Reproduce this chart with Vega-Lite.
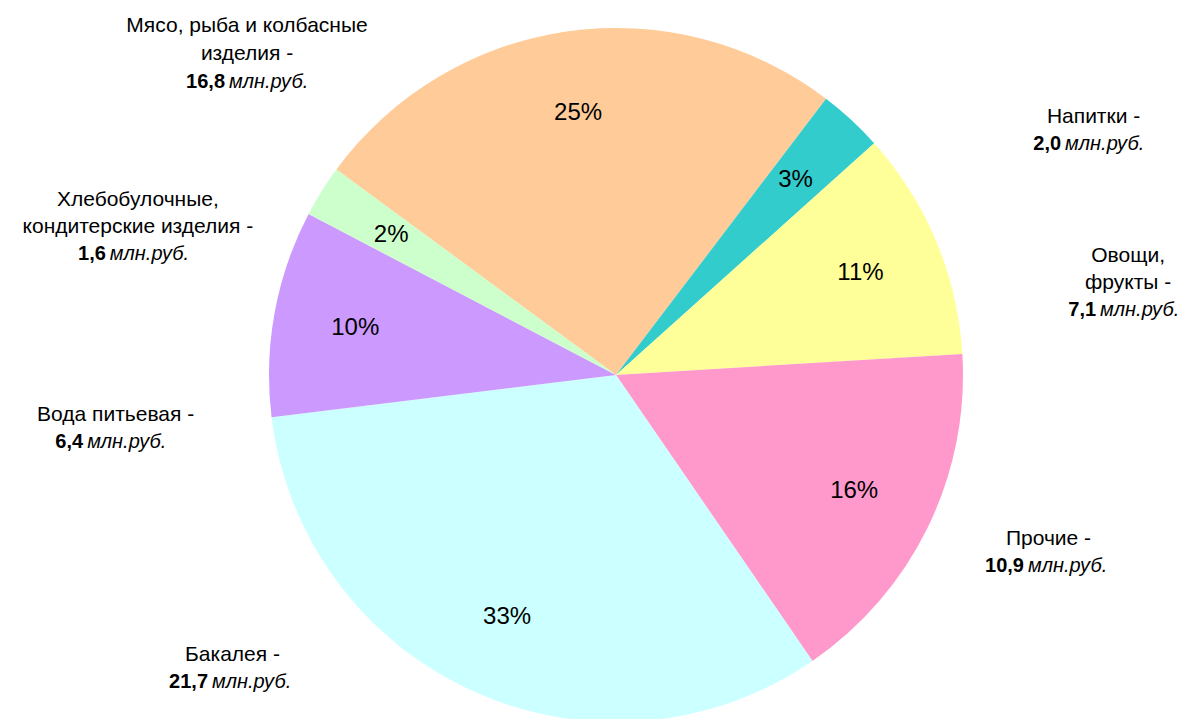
{
  "$schema": "https://vega.github.io/schema/vega-lite/v6.json",
  "width": 1164,
  "height": 686,
  "autosize": {"type": "none"},
  "padding": {"left": 34, "top": 32, "right": 0, "bottom": 1},
  "background": "white",
  "config": {
    "view": {"stroke": null},
    "text": {"font": "Liberation Sans", "color": "black"},
    "locale": {"number": {"decimal": ",", "thousands": "\u00a0", "grouping": [3], "currency": ["", " руб."]}}
  },
  "data": {
    "values": [
      {"idx": 1, "name": "Мясо, рыба и колбасные\nизделия -", "value": 16.8, "share": 0.25, "la": 306.3, "lr": 1.398},
      {"idx": 2, "name": "Напитки -", "value": 2.0, "share": 0.03, "la": 63.2, "lr": 1.437},
      {"idx": 3, "name": "Овощи,\nфрукты -", "value": 7.1, "share": 0.11, "la": 83.0, "lr": 1.394},
      {"idx": 4, "name": "Прочие -", "value": 10.9, "share": 0.16, "la": 115.8, "lr": 1.306},
      {"idx": 5, "name": "Бакалея -", "value": 21.7, "share": 0.33, "la": 232.5, "lr": 1.482},
      {"idx": 6, "name": "Вода питьевая -", "value": 6.4, "share": 0.10, "la": 262.2, "lr": 1.550},
      {"idx": 7, "name": "Хлебобулочные,\nкондитерские изделия -", "value": 1.6, "share": 0.02, "la": 282.7, "lr": 1.507}
    ]
  },
  "resolve": {"scale": {"theta": "independent", "radius": "independent"}},
  "layer": [
    {
      "mark": {"type": "arc", "outerRadius": 347},
      "encoding": {
        "theta": {"field": "value", "type": "quantitative", "stack": true, "scale": {"range": [-0.9372, 5.3460]}},
        "order": {"field": "idx", "type": "quantitative"},
        "color": {
          "field": "idx",
          "type": "nominal",
          "legend": null,
          "scale": {"domain": [1, 2, 3, 4, 5, 6, 7], "range": ["#FFCC99", "#33CCCC", "#FFFF99", "#FF99CC", "#CCFFFF", "#CC99FF", "#CCFFCC"]}
        }
      }
    },
    {
      "mark": {"type": "text", "radius": 265, "fontSize": 24, "align": "center", "baseline": "middle"},
      "encoding": {
        "theta": {"field": "value", "type": "quantitative", "stack": true, "scale": {"range": [-0.9372, 5.3460]}},
        "order": {"field": "idx", "type": "quantitative"},
        "text": {"field": "share", "type": "quantitative", "format": ".0%"}
      }
    },
    {
      "mark": {"type": "text", "align": "right", "baseline": "alphabetic", "fontWeight": "bold", "fontSize": 20},
      "encoding": {
        "theta": {"field": "la", "type": "quantitative", "stack": false, "scale": {"domain": [0, 360], "range": [0, 6.283185]}},
        "radius": {"field": "lr", "type": "quantitative", "scale": {"type": "linear", "domain": [0, 1], "range": [0, 347]}},
        "text": {"field": "value", "type": "quantitative", "format": ".1f"}
      }
    },
    {
      "mark": {"type": "text", "align": "left", "baseline": "alphabetic", "fontStyle": "italic", "fontSize": 20, "dx": 4},
      "encoding": {
        "theta": {"field": "la", "type": "quantitative", "stack": false, "scale": {"domain": [0, 360], "range": [0, 6.283185]}},
        "radius": {"field": "lr", "type": "quantitative", "scale": {"type": "linear", "domain": [0, 1], "range": [0, 347]}},
        "text": {"value": "млн.руб."}
      }
    },
    {
      "transform": [{"filter": "datum.value >= 10 && indexof(datum.name, '\\n') < 0"}],
      "mark": {"type": "text", "align": "center", "baseline": "alphabetic", "fontSize": 21, "lineBreak": "\n", "lineHeight": 27, "dx": 24.5, "dy": -27},
      "encoding": {
        "theta": {"field": "la", "type": "quantitative", "stack": false, "scale": {"domain": [0, 360], "range": [0, 6.283185]}},
        "radius": {"field": "lr", "type": "quantitative", "scale": {"type": "linear", "domain": [0, 1], "range": [0, 347]}},
        "text": {"field": "name", "type": "nominal"}
      }
    },
    {
      "transform": [{"filter": "datum.value < 10 && indexof(datum.name, '\\n') < 0"}],
      "mark": {"type": "text", "align": "center", "baseline": "alphabetic", "fontSize": 21, "lineBreak": "\n", "lineHeight": 27, "dx": 32.5, "dy": -27},
      "encoding": {
        "theta": {"field": "la", "type": "quantitative", "stack": false, "scale": {"domain": [0, 360], "range": [0, 6.283185]}},
        "radius": {"field": "lr", "type": "quantitative", "scale": {"type": "linear", "domain": [0, 1], "range": [0, 347]}},
        "text": {"field": "name", "type": "nominal"}
      }
    },
    {
      "transform": [{"filter": "datum.value >= 10 && indexof(datum.name, '\\n') >= 0"}],
      "mark": {"type": "text", "align": "center", "baseline": "alphabetic", "fontSize": 21, "lineBreak": "\n", "lineHeight": 28, "dx": 22, "dy": -56},
      "encoding": {
        "theta": {"field": "la", "type": "quantitative", "stack": false, "scale": {"domain": [0, 360], "range": [0, 6.283185]}},
        "radius": {"field": "lr", "type": "quantitative", "scale": {"type": "linear", "domain": [0, 1], "range": [0, 347]}},
        "text": {"field": "name", "type": "nominal"}
      }
    },
    {
      "transform": [{"filter": "datum.value < 10 && indexof(datum.name, '\\n') >= 0"}],
      "mark": {"type": "text", "align": "center", "baseline": "alphabetic", "fontSize": 21, "lineBreak": "\n", "lineHeight": 27, "dx": 32, "dy": -54},
      "encoding": {
        "theta": {"field": "la", "type": "quantitative", "stack": false, "scale": {"domain": [0, 360], "range": [0, 6.283185]}},
        "radius": {"field": "lr", "type": "quantitative", "scale": {"type": "linear", "domain": [0, 1], "range": [0, 347]}},
        "text": {"field": "name", "type": "nominal"}
      }
    }
  ]
}
